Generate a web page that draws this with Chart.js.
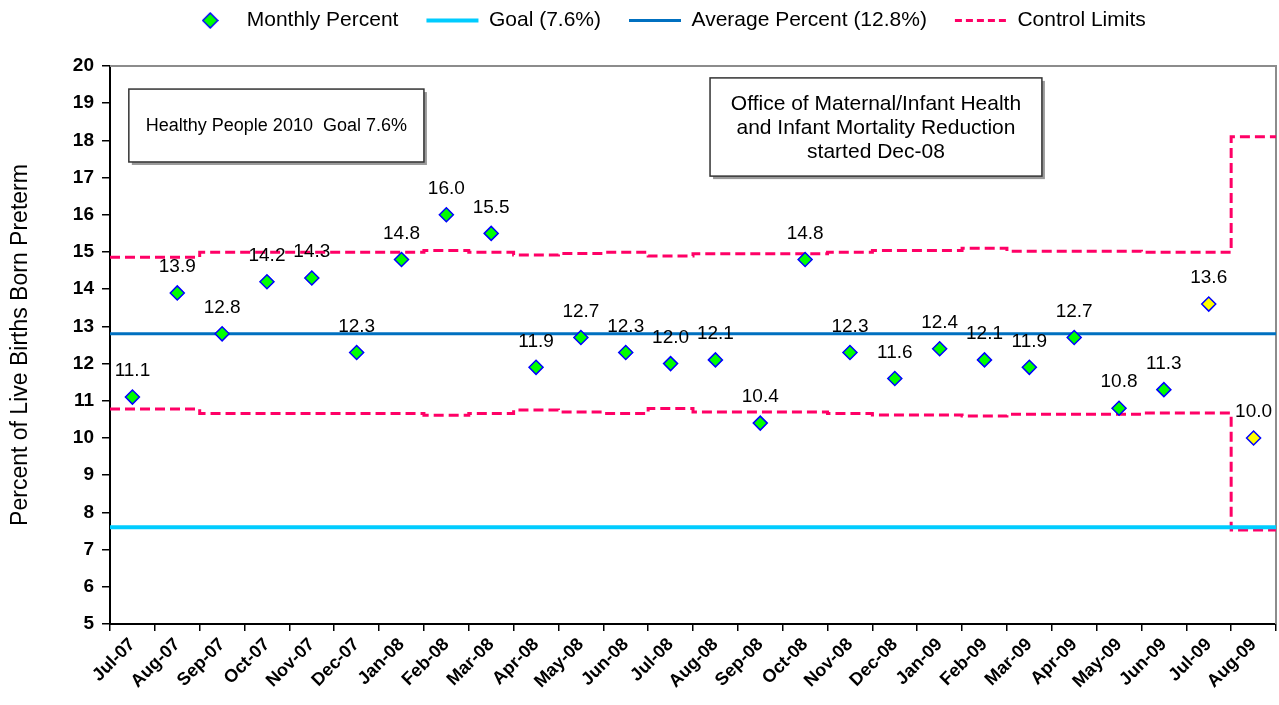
<!DOCTYPE html>
<html>
<head>
<meta charset="utf-8">
<script src="https://cdn.jsdelivr.net/npm/chart.js@4/dist/chart.umd.min.js"></script>
<style>
html, body { margin: 0; padding: 0; background: #fff; }
#wrap { width: 1279px; height: 705px; }
</style>
</head>
<body>
<div id="wrap"><canvas id="chart" width="1279" height="705"></canvas></div>
<script>
// chart data
const months = ["Jul-07", "Aug-07", "Sep-07", "Oct-07", "Nov-07", "Dec-07", "Jan-08", "Feb-08", "Mar-08",
    "Apr-08", "May-08", "Jun-08", "Jul-08", "Aug-08", "Sep-08", "Oct-08", "Nov-08", "Dec-08", "Jan-09",
    "Feb-09", "Mar-09", "Apr-09", "May-09", "Jun-09", "Jul-09", "Aug-09"];
const monthlyPercent = [11.1, 13.9, 12.8, 14.2, 14.3, 12.3, 14.8, 16.0, 15.5, 11.9, 12.7, 12.3, 12.0,
    12.1, 10.4, 14.8, 12.3, 11.6, 12.4, 12.1, 11.9, 12.7, 10.8, 11.3, 13.6, 10.0];
const upperLimit = [14.86, 14.86, 14.99, 14.99, 14.99, 14.99, 14.99, 15.04, 14.99, 14.92, 14.96, 14.99, 14.89,
    14.95, 14.95, 14.95, 14.99, 15.04, 15.04, 15.1, 15.02, 15.02, 15.02, 14.99, 14.99, 18.1];
const lowerLimit = [10.78, 10.78, 10.66, 10.66, 10.66, 10.66, 10.66, 10.61, 10.66, 10.75, 10.7, 10.66, 10.79,
    10.7, 10.7, 10.7, 10.66, 10.62, 10.62, 10.59, 10.64, 10.64, 10.64, 10.67, 10.67, 7.53];
const preliminaryMonths = ["Jul-09", "Aug-09"];
const goalPercent = 7.6;
const averagePercent = 12.8;
const yMin = 5, yMax = 20, yStep = 1;

const goalNote = ["Healthy People 2010  Goal 7.6%"];
const officeNote = ["Office of Maternal/Infant Health", "and Infant Mortality Reduction", "started Dec-08"];

const FONT = "'Liberation Sans', Arial, sans-serif";
Chart.defaults.font.family = FONT;
Chart.defaults.color = "#000";

// step lines need a point at every month boundary, plus the closing one
function stepPoints(values) {
    var pts = values.map(function (v, i) { return {x: i, y: v}; });
    pts.push({x: values.length, y: values[values.length - 1]});
    return pts;
}
function flatPoints(v) {
    return [{x: 0, y: v}, {x: months.length, y: v}];
}

const pointFill = months.map(function (m) { return preliminaryMonths.indexOf(m) >= 0 ? "#FFFF00" : "#00FF00"; });

// small diamond for the legend (rectRot gets stretched by pointStyleWidth)
function diamondIcon() {
    const c = document.createElement("canvas");
    c.width = 17; c.height = 17;
    const g = c.getContext("2d");
    g.beginPath();
    g.moveTo(8.5, 1); g.lineTo(16, 8.5); g.lineTo(8.5, 16); g.lineTo(1, 8.5); g.closePath();
    g.fillStyle = "#00FF00"; g.fill();
    g.strokeStyle = "#0000FF"; g.lineWidth = 1.5; g.stroke();
    return c;
}
const legendDiamond = diamondIcon();

const legendPatch = {
    id: "legendPatch",
    afterInit(chart) {
        const lg = chart.legend;
        const fit = lg.fit;
        lg.fit = function () { fit.call(this); this.height = 84; };
    },
    afterLayout(chart) {
        chart.legend.left += 54;
    }
};

const plotFrame = {
    id: "plotFrame",
    beforeDatasetsDraw(chart) {
        const ctx = chart.ctx, a = chart.chartArea;
        ctx.save();
        ctx.strokeStyle = "#8c8c8c";
        ctx.lineWidth = 2;
        ctx.beginPath();
        ctx.moveTo(a.left, a.top);
        ctx.lineTo(a.right, a.top);
        ctx.lineTo(a.right, a.bottom);
        ctx.stroke();
        ctx.restore();
    }
};

const pointLabels = {
    id: "pointLabels",
    afterDatasetsDraw(chart) {
        const ctx = chart.ctx;
        const meta = chart.getDatasetMeta(0);
        ctx.save();
        ctx.font = "19px " + FONT;
        ctx.fillStyle = "#000";
        ctx.textAlign = "center";
        ctx.textBaseline = "middle";
        meta.data.forEach(function (pt, i) {
            ctx.fillText(monthlyPercent[i].toFixed(1), pt.x, pt.y - 26);
        });
        ctx.restore();
    }
};

function drawNote(chart, lines, size, x0, x1, y0, y1) {
    const ctx = chart.ctx;
    const xs = chart.scales.x2, ys = chart.scales.y;
    const l = xs.getPixelForValue(x0), r = xs.getPixelForValue(x1);
    const t = ys.getPixelForValue(y0), b = ys.getPixelForValue(y1);
    ctx.save();
    ctx.fillStyle = "#9a9a9a";
    ctx.fillRect(l + 3, t + 3, r - l, b - t);
    ctx.fillStyle = "#fff";
    ctx.fillRect(l, t, r - l, b - t);
    ctx.strokeStyle = "#333";
    ctx.lineWidth = 1.5;
    ctx.strokeRect(l, t, r - l, b - t);
    ctx.fillStyle = "#000";
    ctx.font = size + "px " + FONT;
    ctx.textAlign = "center";
    ctx.textBaseline = "middle";
    const cy = (t + b) / 2 + 1, lh = 24;
    lines.forEach(function (s, i) {
        ctx.fillText(s, (l + r) / 2, cy + (i - (lines.length - 1) / 2) * lh);
    });
    ctx.restore();
}

const notesPlugin = {
    id: "notes",
    afterDraw(chart) {
        drawNote(chart, goalNote, 18, 0.42, 7.0, 19.38, 17.42);
        drawNote(chart, officeNote, 21, 13.38, 20.78, 19.68, 17.04);
    }
};

const ctx = document.getElementById("chart").getContext("2d");
const myChart = new Chart(ctx, {
    type: "line",
    data: {
        labels: months,
        datasets: [{
            label: "Monthly Percent",
            data: monthlyPercent,
            xAxisID: "x",
            showLine: false,
            pointStyle: "rectRot",
            pointRadius: 7,
            pointHoverRadius: 7,
            pointBackgroundColor: pointFill,
            pointBorderColor: "#0000FF",
            pointBorderWidth: 1.5
        }, {
            label: "Goal (7.6%)",
            data: flatPoints(goalPercent),
            xAxisID: "x2",
            borderColor: "#00CCFF",
            borderWidth: 4,
            pointRadius: 0
        }, {
            label: "Average Percent (12.8%)",
            data: flatPoints(averagePercent),
            xAxisID: "x2",
            borderColor: "#0070C0",
            borderWidth: 3,
            pointRadius: 0
        }, {
            label: "Control Limits",
            data: stepPoints(upperLimit),
            xAxisID: "x2",
            stepped: true,
            borderColor: "#FF0066",
            borderWidth: 3,
            borderDash: [10, 5],
            pointRadius: 0
        }, {
            label: "Lower Limit",
            data: stepPoints(lowerLimit),
            xAxisID: "x2",
            stepped: true,
            borderColor: "#FF0066",
            borderWidth: 3,
            borderDash: [10, 5],
            pointRadius: 0
        }]
    },
    options: {
        responsive: false,
        animation: false,
        layout: {autoPadding: false, padding: {top: -18, left: 0, right: 3, bottom: 0}},
        plugins: {
            tooltip: {enabled: false},
            legend: {
                position: "top",
                labels: {
                    usePointStyle: true,
                    pointStyleWidth: 52,
                    boxHeight: 10.5,
                    padding: 28,
                    color: "#000",
                    font: {size: 21},
                    generateLabels: function (chart) {
                        return [{
                            text: "Monthly Percent", pointStyle: legendDiamond, fillStyle: "#00FF00",
                            strokeStyle: "#0000FF", lineWidth: 1.5, datasetIndex: 0
                        }, {
                            text: "Goal (7.6%)", pointStyle: "line", fillStyle: "#00CCFF",
                            strokeStyle: "#00CCFF", lineWidth: 4, datasetIndex: 1
                        }, {
                            text: "Average Percent (12.8%)", pointStyle: "line", fillStyle: "#0070C0",
                            strokeStyle: "#0070C0", lineWidth: 3, datasetIndex: 2
                        }, {
                            text: "Control Limits", pointStyle: "line", fillStyle: "#FF0066",
                            strokeStyle: "#FF0066", lineWidth: 3, lineDash: [7, 4], datasetIndex: 3
                        }];
                    }
                }
            }
        },
        scales: {
            x: {
                type: "category",
                offset: true,
                grid: {offset: true, drawOnChartArea: false, tickLength: 7, color: "#000", lineWidth: 1.5},
                border: {color: "#000", width: 2},
                ticks: {
                    autoSkip: false, minRotation: 45, maxRotation: 45, padding: 3,
                    color: "#000", font: {size: 18, weight: "bold"}
                },
                afterFit: function (scale) {
                    scale.height = 81;
                    scale.paddingRight = 0;
                }
            },
            x2: {
                type: "linear",
                display: false,
                min: 0,
                max: months.length,
                ticks: {display: false}
            },
            y: {
                min: yMin,
                max: yMax,
                ticks: {stepSize: yStep, padding: 8, color: "#000", font: {size: 19, weight: "bold"}},
                grid: {drawOnChartArea: false, tickLength: 8, color: "#000", lineWidth: 1.5},
                border: {color: "#000", width: 2},
                title: {
                    display: true,
                    text: "Percent of Live Births Born Preterm",
                    color: "#000",
                    font: {size: 23},
                    padding: {top: 7, bottom: 0}
                },
                afterFit: function (scale) { scale.width = 110; }
            }
        }
    },
    plugins: [legendPatch, plotFrame, pointLabels, notesPlugin]
});
</script>
</body>
</html>
